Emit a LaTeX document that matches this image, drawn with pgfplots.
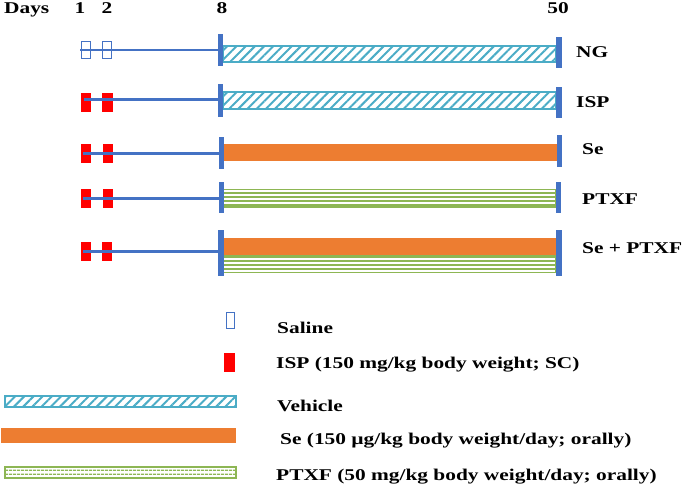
\documentclass[border=0pt]{standalone}
\usepackage{pgfplots}
\pgfplotsset{compat=1.18}
\usepackage{fontspec}
\setmainfont{Liberation Serif}[FakeStretch=1.3]
\usetikzlibrary{patterns.meta}
\definecolor{lineblue}{HTML}{4472C4}
\definecolor{hatchcyan}{HTML}{4BACC6}
\definecolor{seorange}{HTML}{ED7D31}
\definecolor{ptgreen}{HTML}{8DB654}
\definecolor{ispred}{HTML}{FF0000}
\begin{document}
\begin{tikzpicture}[lab/.style={font=\bfseries\fontsize{16.5}{19}\selectfont, inner sep=0pt}]
\begin{axis}[
  scale only axis, width=685bp, height=485bp,
  xmin=0, xmax=685, ymin=0, ymax=485, y dir=reverse,
  axis lines=none, clip=false,
]
% ---------- Row 1: NG ----------
\addplot[draw=lineblue, line width=1.6bp] coordinates {(81.5,41.5) (90.5,41.5) (90.5,58.5) (81.5,58.5)} -- cycle;
\addplot[draw=lineblue, line width=1.6bp] coordinates {(102.5,41.5) (111.5,41.5) (111.5,58.5) (102.5,58.5)} -- cycle;
\addplot[draw=lineblue, line width=2.5bp] coordinates {(80,50) (219,50)};
\addplot[draw=hatchcyan, line width=1.5bp, pattern={Lines[angle=45,distance=6.5bp,line width=2bp]}, pattern color=hatchcyan] coordinates {(223,46) (556,46) (556,62) (223,62)} -- cycle;
\addplot[fill=lineblue, draw=none] coordinates {(218,34) (223,34) (223,66) (218,66)} -- cycle;
\addplot[fill=lineblue, draw=none] coordinates {(556,37) (562,37) (562,68) (556,68)} -- cycle;
% ---------- Row 2: ISP ----------
\addplot[fill=ispred, draw=none] coordinates {(81,93) (91,93) (91,112) (81,112)} -- cycle;
\addplot[fill=ispred, draw=none] coordinates {(102,93) (113,93) (113,112) (102,112)} -- cycle;
\addplot[draw=lineblue, line width=3bp] coordinates {(84,100) (219,100)};
\addplot[draw=hatchcyan, line width=1.5bp, pattern={Lines[angle=45,distance=6.5bp,line width=2bp]}, pattern color=hatchcyan] coordinates {(223,92) (556,92) (556,109) (223,109)} -- cycle;
\addplot[fill=lineblue, draw=none] coordinates {(218,84) (223,84) (223,117) (218,117)} -- cycle;
\addplot[fill=lineblue, draw=none] coordinates {(556,87) (562,87) (562,118) (556,118)} -- cycle;
% ---------- Row 3: Se ----------
\addplot[fill=ispred, draw=none] coordinates {(81,144) (91,144) (91,163) (81,163)} -- cycle;
\addplot[fill=ispred, draw=none] coordinates {(103,144) (113,144) (113,163) (103,163)} -- cycle;
\addplot[draw=lineblue, line width=3bp] coordinates {(83,153) (219,153)};
\addplot[fill=seorange, draw=none] coordinates {(223,144) (557,144) (557,161) (223,161)} -- cycle;
\addplot[fill=lineblue, draw=none] coordinates {(219,137) (224,137) (224,169) (219,169)} -- cycle;
\addplot[fill=lineblue, draw=none] coordinates {(557,135) (562,135) (562,167) (557,167)} -- cycle;
% ---------- Row 4: PTXF ----------
\addplot[fill=ispred, draw=none] coordinates {(81,189) (91,189) (91,208) (81,208)} -- cycle;
\addplot[fill=ispred, draw=none] coordinates {(103,189) (113,189) (113,208) (103,208)} -- cycle;
\addplot[draw=lineblue, line width=3bp] coordinates {(83,198) (219,198)};
\addplot[draw=ptgreen, line width=1.3bp, pattern={Lines[angle=0,distance=4bp,line width=1.5bp]}, pattern color=ptgreen] coordinates {(223,189.5) (556,189.5) (556,207) (223,207)} -- cycle;
\addplot[fill=lineblue, draw=none] coordinates {(219,182) (224,182) (224,213) (219,213)} -- cycle;
\addplot[fill=lineblue, draw=none] coordinates {(556,182) (561,182) (561,213) (556,213)} -- cycle;
% ---------- Row 5: Se + PTXF ----------
\addplot[fill=ispred, draw=none] coordinates {(81,242) (91,242) (91,261) (81,261)} -- cycle;
\addplot[fill=ispred, draw=none] coordinates {(102,242) (112,242) (112,261) (102,261)} -- cycle;
\addplot[draw=lineblue, line width=3bp] coordinates {(83,251) (219,251)};
\addplot[draw=ptgreen, line width=1.3bp, pattern={Lines[angle=0,distance=4bp,line width=1.5bp]}, pattern color=ptgreen] coordinates {(223,255) (556,255) (556,272.5) (223,272.5)} -- cycle;
\addplot[fill=seorange, draw=none] coordinates {(223,238) (556,238) (556,255) (223,255)} -- cycle;
\addplot[fill=lineblue, draw=none] coordinates {(218,230) (224,230) (224,276) (218,276)} -- cycle;
\addplot[fill=lineblue, draw=none] coordinates {(556,230) (562,230) (562,276) (556,276)} -- cycle;
% ---------- Legend symbols ----------
\addplot[draw=lineblue, line width=1.6bp] coordinates {(226.5,312.5) (234.5,312.5) (234.5,328.5) (226.5,328.5)} -- cycle;
\addplot[fill=ispred, draw=none] coordinates {(224,353) (235,353) (235,372) (224,372)} -- cycle;
\addplot[draw=hatchcyan, line width=1.5bp, pattern={Lines[angle=45,distance=6.5bp,line width=2bp]}, pattern color=hatchcyan] coordinates {(5,396) (236,396) (236,407) (5,407)} -- cycle;
\addplot[fill=seorange, draw=none] coordinates {(1,428) (236,428) (236,443) (1,443)} -- cycle;
\addplot[draw=ptgreen, line width=1.3bp, pattern={Lines[angle=0,distance=3.6bp,line width=1.4bp]}, pattern color=ptgreen] coordinates {(5,467) (236,467) (236,478) (5,478)} -- cycle;
% ---------- Texts ----------
\node[lab, anchor=base west] at (axis cs:4,13.5) {Days};
\node[lab, anchor=base] at (axis cs:80,13.5) {1};
\node[lab, anchor=base] at (axis cs:107,13.5) {2};
\node[lab, anchor=base] at (axis cs:222,13.5) {8};
\node[lab, anchor=base] at (axis cs:558,13.5) {50};
\node[lab, anchor=base west] at (axis cs:576,58) {NG};
\node[lab, anchor=base west] at (axis cs:576,107) {ISP};
\node[lab, anchor=base west] at (axis cs:582,154) {Se};
\node[lab, anchor=base west] at (axis cs:582,204) {PTXF};
\node[lab, anchor=base west] at (axis cs:582,253) {Se + PTXF};
\node[lab, anchor=base west] at (axis cs:277,333) {Saline};
\node[lab, anchor=base west] at (axis cs:276,368) {ISP (150 mg/kg body weight; SC)};
\node[lab, anchor=base west] at (axis cs:277,411) {Vehicle};
\node[lab, anchor=base west] at (axis cs:280,444) {Se (150 µg/kg body weight/day; orally)};
\node[lab, anchor=base west] at (axis cs:276,480) {PTXF (50 mg/kg body weight/day; orally)};
\end{axis}
\pgfresetboundingbox
\path[use as bounding box] (current axis.south west) rectangle (current axis.north east);
\end{tikzpicture}
\end{document}
